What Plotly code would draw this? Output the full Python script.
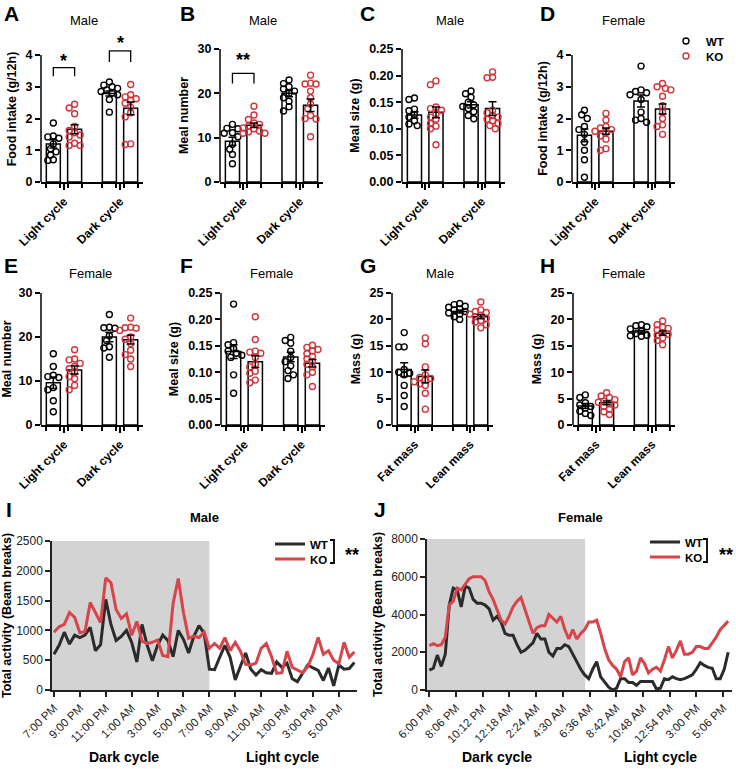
import plotly.graph_objects as go

W, H = 736, 769
FONT = "Liberation Sans, Arial, Helvetica, sans-serif"
NARROW = "Liberation Sans Narrow, Liberation Sans, Arial, sans-serif"
RED = "#d1343b"
LINE_RED = "#d7444a"
LINE_BLACK = "#2b2b2b"

# ---------------- data ----------------
CYCLE_CATS = ["Light cycle", "Dark cycle"]
MASS_CATS = ["Fat mass", "Lean mass"]

# A: Male food intake (g/12h)
A_WT = [[1.86, 1.45, 1.42, 1.38, 1.20, 1.05, 0.95, 0.85, 0.70, 0.68],
        [3.15, 3.05, 3.00, 2.95, 2.90, 2.85, 2.80, 2.75, 2.60, 2.20]]
A_KO = [[2.45, 2.33, 2.15, 1.75, 1.62, 1.55, 1.48, 1.42, 1.22, 1.15, 1.15],
        [3.07, 2.75, 2.68, 2.62, 2.58, 2.48, 2.35, 2.18, 2.05, 1.20, 1.18]]
A_WT_MEAN, A_WT_SEM = [1.20, 2.79], [0.13, 0.08]
A_KO_MEAN, A_KO_SEM = [1.66, 2.32], [0.14, 0.20]
A_SIG = [(0, 3.33, 3.6, "*", 3.82), (1, 3.78, 4.13, "*", 4.38)]

# B: Male meal number
B_WT = [[13.0, 12.1, 12.0, 11.1, 11.0, 10.2, 8.5, 7.4, 6.2, 4.1],
        [23.0, 22.2, 21.5, 21.0, 20.5, 20.0, 19.0, 18.2, 17.0, 16.0]]
B_KO = [[17.1, 15.1, 14.1, 13.3, 13.0, 12.6, 12.2, 12.0, 11.5, 11.3, 11.0, 11.0],
        [24.1, 22.3, 22.1, 22.1, 20.5, 19.0, 17.6, 16.5, 15.0, 14.3, 14.2, 10.2]]
B_WT_MEAN, B_WT_SEM = [9.2, 20.0], [0.9, 0.75]
B_KO_MEAN, B_KO_SEM = [12.8, 17.3], [0.5, 1.4]
B_SIG = [(0, 22.2, 24.5, "**", 27.6)]

# C: Male meal size (g)
C_WT = [[0.158, 0.155, 0.137, 0.134, 0.127, 0.122, 0.115, 0.109, 0.106],
        [0.171, 0.166, 0.159, 0.150, 0.145, 0.142, 0.138, 0.132, 0.125, 0.119]]
C_KO = [[0.190, 0.183, 0.141, 0.138, 0.135, 0.128, 0.122, 0.118, 0.110, 0.105, 0.100, 0.070],
        [0.207, 0.197, 0.196, 0.135, 0.130, 0.125, 0.122, 0.118, 0.115, 0.110, 0.106, 0.100]]
C_WT_MEAN, C_WT_SEM = [0.126, 0.145], [0.006, 0.006]
C_KO_MEAN, C_KO_SEM = [0.131, 0.138], [0.010, 0.013]

# D: Female food intake (g/12h)
D_WT = [[2.26, 2.12, 2.00, 1.75, 1.65, 1.50, 1.25, 1.00, 0.70, 0.15],
        [3.65, 2.90, 2.85, 2.81, 2.75, 2.60, 2.20, 2.00, 1.95, 1.88]]
D_KO = [[2.16, 1.95, 1.75, 1.70, 1.65, 1.60, 1.55, 1.45, 1.35, 1.05, 1.00],
        [3.10, 3.00, 2.95, 2.90, 2.70, 2.40, 2.20, 2.00, 1.80, 1.75, 1.50]]
D_WT_MEAN, D_WT_SEM = [1.47, 2.55], [0.20, 0.19]
D_KO_MEAN, D_KO_SEM = [1.60, 2.30], [0.10, 0.16]

# E: Female meal number
E_WT = [[16.2, 13.3, 11.3, 11.0, 10.8, 8.5, 8.0, 5.5, 3.0],
        [25.1, 22.2, 22.1, 22.0, 20.3, 19.2, 17.8, 17.5, 15.4]]
E_KO = [[17.1, 15.0, 14.8, 14.0, 13.3, 12.8, 12.0, 11.0, 10.5, 9.0, 8.0],
        [24.3, 22.2, 22.1, 22.0, 21.5, 20.0, 19.5, 18.5, 17.0, 16.0, 15.0, 13.3]]
E_WT_MEAN, E_WT_SEM = [9.6, 20.0], [1.3, 1.1]
E_KO_MEAN, E_KO_SEM = [12.5, 19.4], [0.9, 1.0]

# F: Female meal size (g)
F_WT = [[0.229, 0.156, 0.152, 0.145, 0.140, 0.136, 0.132, 0.128, 0.095, 0.060],
        [0.166, 0.160, 0.155, 0.140, 0.128, 0.120, 0.112, 0.103, 0.095, 0.088]]
F_KO = [[0.205, 0.162, 0.140, 0.138, 0.136, 0.128, 0.115, 0.110, 0.102, 0.098, 0.085, 0.080],
        [0.151, 0.147, 0.143, 0.140, 0.135, 0.130, 0.125, 0.120, 0.115, 0.110, 0.100, 0.095, 0.073]]
F_WT_MEAN, F_WT_SEM = [0.139, 0.129], [0.013, 0.009]
F_KO_MEAN, F_KO_SEM = [0.120, 0.117], [0.011, 0.007]

# G: Male mass (g)
G_WT = [[17.5, 14.8, 14.8, 10.5, 10.0, 9.8, 9.5, 7.5, 5.6, 3.5],
        [23.0, 22.8, 22.5, 22.3, 22.0, 21.8, 21.5, 21.2, 21.0, 20.5, 20.0]]
G_KO = [[16.5, 15.4, 11.0, 9.5, 9.0, 8.8, 8.5, 8.2, 7.8, 7.5, 6.0, 3.0],
        [23.3, 21.8, 21.5, 21.3, 21.0, 20.8, 20.5, 20.2, 19.8, 19.5, 19.0, 18.4]]
G_WT_MEAN, G_WT_SEM = [10.5, 21.5], [1.3, 0.3]
G_KO_MEAN, G_KO_SEM = [9.2, 20.5], [1.2, 0.4]

# H: Female mass (g)
H_WT = [[5.7, 5.2, 4.2, 3.8, 3.5, 3.2, 2.6, 2.2, 1.8],
        [19.0, 18.8, 18.6, 18.2, 17.8, 17.3, 17.0, 16.9, 16.8]]
H_KO = [[6.1, 5.5, 5.2, 4.8, 4.5, 4.3, 4.0, 3.8, 3.5, 3.0, 2.5, 2.0],
        [19.7, 19.0, 18.5, 18.3, 18.0, 17.5, 17.2, 17.0, 16.5, 16.0, 15.2]]
H_WT_MEAN, H_WT_SEM = [3.6, 17.6], [0.45, 0.3]
H_KO_MEAN, H_KO_SEM = [4.2, 17.4], [0.35, 0.4]

# I: Male total activity (beam breaks), 24-min bins from 7:00 PM
I_STEP_MIN = 24
I_WT = [600, 750, 970, 770, 920, 880, 920, 1050, 660, 760, 1520, 1100, 830, 900, 1000,
        800, 470, 1100, 750, 490, 750, 920, 830, 560, 1000, 850, 620, 900, 1080, 950,
        350, 340, 550, 750, 550, 170, 400, 620, 350, 250, 340, 290, 280, 470, 380,
        450, 190, 140, 280, 420, 370, 330, 160, 370, 70, 420, 350, 360, 460]
I_KO = [970, 1060, 1100, 1300, 1220, 960, 980, 1470, 1300, 1130, 1880, 1800, 1350, 1200, 1280,
        920, 1150, 820, 780, 800, 840, 580, 560, 1450, 1870, 1300, 870, 900, 880, 970,
        700, 780, 700, 880, 660, 800, 650, 430, 420, 450, 700, 780, 560, 280, 290,
        650, 380, 340, 290, 390, 600, 880, 600, 660, 500, 440, 800, 550, 640]
I_TICKS = ["7:00 PM", "9:00 PM", "11:00 PM", "1:00 AM", "3:00 AM", "5:00 AM",
           "7:00 AM", "9:00 AM", "11:00 AM", "1:00 PM", "3:00 PM", "5:00 PM"]
I_TICK_STEP = 120
I_DARK_END = 720

# J: Female total activity (beam breaks), bins from 6:00 PM
J_STEP_MIN = 18.8
J_WT = [1050, 1150, 1850, 1250, 1900, 4500, 5400, 5300, 4400, 5500,
        5400, 4800, 4600, 4600, 4500, 4300, 3700, 3900, 3600, 3000,
        2900, 2900, 2400, 2000, 2100, 2300, 2500, 3000, 2700, 2700,
        2000, 1800, 2200, 2200, 2400, 2300, 1900, 1500, 1100, 800,
        600, 1100, 1500, 700, 400, 150, 0, 100, 600, 600,
        400, 400, 250, 450, 450, 450, 450, 50, 100, 600,
        550, 700, 600, 550, 600, 700, 800, 1100, 1450, 1300,
        1200, 1150, 600, 600, 1100, 2000]
J_KO = [2350, 2450, 2350, 2400, 2800, 4500, 4700, 5400, 5300, 5600,
        5900, 6000, 6000, 6000, 5800, 5200, 4800, 4300, 3700, 3500,
        3900, 4400, 4700, 4900, 4300, 3600, 3000, 3300, 3400, 3400,
        4000, 3800, 3600, 3900, 3200, 2700, 3200, 2700, 3000, 3200,
        3600, 3600, 3700, 3000, 2200, 1600, 1300, 1100, 700, 1500,
        1700, 800, 1000, 1700, 1400, 900, 1100, 1200, 1000, 1600,
        2300, 1700, 2100, 2600, 1900, 1900, 2000, 2300, 2300, 2200,
        2200, 2500, 2800, 3200, 3450, 3650]
J_TICKS = ["6:00 PM", "8:06 PM", "10:12 PM", "12:18 AM", "2:24 AM", "4:30 AM",
           "6:36 AM", "8:42 AM", "10:48 AM", "12:54 PM", "3:00 PM", "5:06 PM"]
J_TICK_STEP = 126
J_DARK_END = 735

# ---------------- helpers ----------------
def px_x(px):
    return px / W


def px_y(py):
    return 1 - py / H


BAR_OFF, BAR_W = 0.19, 0.25
XR = [-0.41, 1.41]
DIAM = 5.5


def swarm(vals, center, ppu_y, ppu_x):
    order = sorted(range(len(vals)), key=lambda i: -vals[i])
    placed = []
    xs = [center] * len(vals)
    cands = [0, -0.5, 0.5, -1, 1, -1.5, 1.5, -2, 2, -2.5, 2.5]
    for i in order:
        yv = vals[i] * ppu_y
        xv = 0
        for c in cands:
            xv = c * DIAM
            if all((xv - a) ** 2 + (yv - b) ** 2 >= (DIAM * 0.95) ** 2 for a, b in placed):
                break
        placed.append((xv, yv))
        xs[i] = center + xv / ppu_x
    return xs


fig = go.Figure()
layout = dict(
    width=W, height=H, autosize=False,
    margin=dict(l=0, r=0, t=0, b=0, pad=0),
    paper_bgcolor="white", plot_bgcolor="white",
    barmode="overlay", font=dict(family=FONT, color="black"),
    showlegend=True,
)
shapes, annotations = [], []


def paper_text(x, y, text, size, bold=False, xanchor="center"):
    font = dict(family=FONT, size=size, color="black")
    if bold:
        font["weight"] = "bold"
    annotations.append(dict(x=px_x(x), y=px_y(y), xref="paper", yref="paper", text=text,
                            xanchor=xanchor, yanchor="middle", showarrow=False, font=font))


BAR_PANELS = [
    dict(n=1, title="Male", yt="Food intake (g/12h)", cats=CYCLE_CATS, wt=A_WT, ko=A_KO,
         wm=A_WT_MEAN, ws=A_WT_SEM, km=A_KO_MEAN, ks=A_KO_SEM, ymax=4, dt=1, fmt="",
         px=(41, 143), py=(55, 182), rtop=4.6, sig=A_SIG, tx=84, ty=21),
    dict(n=2, title="Male", yt="Meal number", cats=CYCLE_CATS, wt=B_WT, ko=B_KO,
         wm=B_WT_MEAN, ws=B_WT_SEM, km=B_KO_MEAN, ks=B_KO_SEM, ymax=30, dt=10, fmt="",
         px=(220, 323), py=(49, 182), rtop=30, sig=B_SIG, tx=263, ty=21),
    dict(n=3, title="Male", yt="Meal size (g)", cats=CYCLE_CATS, wt=C_WT, ko=C_KO,
         wm=C_WT_MEAN, ws=C_WT_SEM, km=C_KO_MEAN, ks=C_KO_SEM, ymax=0.25, dt=0.05, fmt=".2f",
         px=(402, 505), py=(49, 182), rtop=0.25, sig=[], tx=450, ty=21),
    dict(n=4, title="Female", yt="Food intake (g/12h)", cats=CYCLE_CATS, wt=D_WT, ko=D_KO,
         wm=D_WT_MEAN, ws=D_WT_SEM, km=D_KO_MEAN, ks=D_KO_SEM, ymax=4, dt=1, fmt="",
         px=(572, 675), py=(55, 182), rtop=4, sig=[], tx=623, ty=21),
    dict(n=5, title="Female", yt="Meal number", cats=CYCLE_CATS, wt=E_WT, ko=E_KO,
         wm=E_WT_MEAN, ws=E_WT_SEM, km=E_KO_MEAN, ks=E_KO_SEM, ymax=30, dt=10, fmt="",
         px=(41, 143), py=(293, 425), rtop=30, sig=[], tx=90, ty=273),
    dict(n=6, title="Female", yt="Meal size (g)", cats=CYCLE_CATS, wt=F_WT, ko=F_KO,
         wm=F_WT_MEAN, ws=F_WT_SEM, km=F_KO_MEAN, ks=F_KO_SEM, ymax=0.25, dt=0.05, fmt=".2f",
         px=(221, 325), py=(293, 425), rtop=0.25, sig=[], tx=271, ty=273),
    dict(n=7, title="Male", yt="Mass (g)", cats=MASS_CATS, wt=G_WT, ko=G_KO,
         wm=G_WT_MEAN, ws=G_WT_SEM, km=G_KO_MEAN, ks=G_KO_SEM, ymax=25, dt=5, fmt="",
         px=(392, 493), py=(293, 425), rtop=25, sig=[], tx=440, ty=273),
    dict(n=8, title="Female", yt="Mass (g)", cats=MASS_CATS, wt=H_WT, ko=H_KO,
         wm=H_WT_MEAN, ws=H_WT_SEM, km=H_KO_MEAN, ks=H_KO_SEM, ymax=25, dt=5, fmt="",
         px=(573, 675), py=(293, 425), rtop=25, sig=[], tx=623, ty=273),
]

LETTER_POS = {"A": (2, 13), "B": (178, 13), "C": (358, 13), "D": (538, 13),
              "E": (2, 265), "F": (178, 265), "G": (358, 265), "H": (538, 265),
              "I": (4, 510), "J": (372, 510)}

edges = []
for g in (0, 1):
    for s in (-1, 1):
        for e in (-1, 1):
            edges.append(g + s * BAR_OFF + e * BAR_W / 2)
edges = sorted(edges)

for p in BAR_PANELS:
    n = p["n"]
    xa = "x" if n == 1 else f"x{n}"
    ya = "y" if n == 1 else f"y{n}"
    xl, xr = p["px"]
    yt_px, yb_px = p["py"]
    ppu_y = (yb_px - yt_px) / p["ymax"]
    top_px = yb_px - p["rtop"] * ppu_y
    ppu_x = (xr - xl) / (XR[1] - XR[0])
    tickvals = []
    v = 0.0
    while v <= p["ymax"] + 1e-9:
        tickvals.append(round(v, 4))
        v += p["dt"]

    layout["xaxis" if n == 1 else f"xaxis{n}"] = dict(
        domain=[px_x(xl), px_x(xr)], anchor=ya, range=XR, automargin=False,
        tickmode="array", tickvals=[0, 1], ticktext=p["cats"], tickangle=-45,
        ticks="outside", ticklen=6, tickwidth=1.5, tickcolor="black",
        showline=True, linewidth=1.5, linecolor="black",
        showgrid=False, zeroline=False,
        tickfont=dict(family=FONT, size=12, color="black", weight="bold"),
        minor=dict(tickmode="array", tickvals=edges, ticks="outside", ticklen=4,
                   tickwidth=1.5, tickcolor="black"),
    )
    layout["yaxis" if n == 1 else f"yaxis{n}"] = dict(
        domain=[px_y(yb_px), px_y(top_px)], anchor=xa, range=[0, p["rtop"]], automargin=False,
        tickmode="array", tickvals=tickvals, tickformat=p["fmt"],
        ticks="outside", ticklen=5, tickwidth=1.5, tickcolor="black",
        showline=False, showgrid=False, zeroline=False,
        tickfont=dict(family=FONT, size=12.5, color="black", weight="bold"),
        title=dict(text=p["yt"], font=dict(family=FONT, size=12.5, color="black", weight="bold"),
                   standoff=6),
    )
    shapes.append(dict(type="line", xref=f"{xa} domain", yref=ya, x0=0, x1=0, y0=0, y1=p["ymax"],
                       line=dict(color="black", width=1.5)))

    wt_pos = [g - BAR_OFF for g in (0, 1)]
    ko_pos = [g + BAR_OFF for g in (0, 1)]
    for pos, mean in ((wt_pos, p["wm"]), (ko_pos, p["km"])):
        fig.add_trace(go.Bar(x=pos, y=mean, width=BAR_W, xaxis=xa, yaxis=ya,
                             marker=dict(color="white", line=dict(color="black", width=1.5)),
                             showlegend=False, hoverinfo="skip"))
    for name, groups, pos, col, lg in (("WT", p["wt"], wt_pos, "black", "legend"),
                                       ("KO", p["ko"], ko_pos, RED, "legend4")):
        xs, ys = [], []
        for g, vals in enumerate(groups):
            xs += swarm(vals, pos[g], ppu_y, ppu_x)
            ys += vals
        fig.add_trace(go.Scatter(x=xs, y=ys, mode="markers", xaxis=xa, yaxis=ya, name=name,
                                 marker=dict(symbol="circle-open", size=6, color=col,
                                             line=dict(width=1.4, color=col)),
                                 showlegend=(n == 1), legend=lg))
    for pos, mean, sem in ((wt_pos, p["wm"], p["ws"]), (ko_pos, p["km"], p["ks"])):
        fig.add_trace(go.Scatter(x=pos, y=mean, mode="markers", xaxis=xa, yaxis=ya,
                                 marker=dict(size=2, color="rgba(0,0,0,0)"),
                                 error_y=dict(type="data", array=sem, visible=True, color="black",
                                              thickness=1.5, width=4),
                                 showlegend=False, hoverinfo="skip"))
    for g, leg, top, txt, sy in p["sig"]:
        x1, x2 = g - BAR_OFF, g + BAR_OFF
        shapes.append(dict(type="path", xref=xa, yref=ya,
                           path=f"M {x1},{leg} L {x1},{top} L {x2},{top} L {x2},{leg}",
                           line=dict(color="black", width=1.3)))
        annotations.append(dict(x=g, y=sy, xref=xa, yref=ya, text=txt, showarrow=False,
                                yanchor="middle", font=dict(family=FONT, size=18, color="black",
                                                            weight="bold")))
    paper_text(p["tx"], p["ty"], p["title"], 13)

# ---------------- time-course panels ----------------
LINE_PANELS = [
    dict(n=9, title="Male", wt=I_WT, ko=I_KO, step=I_STEP_MIN, ticks=I_TICKS, tstep=I_TICK_STEP,
         dark_end=I_DARK_END, ymax=2500, dt=500, px=(52, 357), py=(541, 690), xr=[-9, 1404],
         legends=("legend2", "legend5"), title_x=204, dark_x=124, light_x=282),
    dict(n=10, title="Female", wt=J_WT, ko=J_KO, step=J_STEP_MIN, ticks=J_TICKS, tstep=J_TICK_STEP,
         dark_end=J_DARK_END, ymax=8000, dt=2000, px=(427, 732), py=(539, 690), xr=[-11, 1428],
         legends=("legend3", "legend6"), title_x=580, dark_x=497, light_x=660),
]

for p in LINE_PANELS:
    n = p["n"]
    xa, ya = f"x{n}", f"y{n}"
    xl, xr = p["px"]
    yt_px, yb_px = p["py"]
    layout[f"xaxis{n}"] = dict(
        domain=[px_x(xl), px_x(xr)], anchor=ya, range=p["xr"], automargin=False,
        tickmode="array", tickvals=[i * p["tstep"] for i in range(len(p["ticks"]))],
        ticktext=p["ticks"], tickangle=-45,
        ticks="outside", ticklen=5, tickwidth=1.5, tickcolor="#222",
        showline=True, linewidth=1.5, linecolor="#222", showgrid=False, zeroline=False,
        tickfont=dict(family=FONT, size=11.5, color="#222"),
    )
    layout[f"yaxis{n}"] = dict(
        domain=[px_y(yb_px), px_y(yt_px)], anchor=xa, range=[0, p["ymax"]], dtick=p["dt"],
        automargin=False,
        ticks="outside", ticklen=5, tickwidth=1.5, tickcolor="#222",
        showline=True, linewidth=1.5, linecolor="#222", showgrid=False, zeroline=False,
        tickfont=dict(family=FONT, size=12, color="#222"),
        title=dict(text="Total activity (Beam breaks)",
                   font=dict(family=FONT, size=12.5, color="black", weight="bold"), standoff=6),
    )
    shapes.append(dict(type="rect", xref=xa, yref=ya, x0=p["xr"][0], x1=p["dark_end"],
                       y0=0, y1=p["ymax"], fillcolor="#d3d3d3", line=dict(width=0), layer="below"))
    t = [i * p["step"] for i in range(len(p["wt"]))]
    fig.add_trace(go.Scatter(x=t, y=p["wt"], mode="lines", name="WT", xaxis=xa, yaxis=ya,
                             line=dict(color=LINE_BLACK, width=3), legend=p["legends"][0]))
    t = [i * p["step"] for i in range(len(p["ko"]))]
    fig.add_trace(go.Scatter(x=t, y=p["ko"], mode="lines", name="KO", xaxis=xa, yaxis=ya,
                             line=dict(color=LINE_RED, width=3), legend=p["legends"][1]))
    paper_text(p["title_x"], 517, p["title"], 13, bold=True)
    paper_text(p["dark_x"], 757, "Dark cycle", 14, bold=True)
    paper_text(p["light_x"], 757, "Light cycle", 14, bold=True)

# legends (one entry each so the row spacing can follow the reference)
LEG_POS = {"legend": (666, 41, FONT), "legend4": (666, 56, FONT),
           "legend2": (270, 544, NARROW), "legend5": (270, 559, NARROW),
           "legend3": (645, 542, NARROW), "legend6": (645, 557, NARROW)}
for key, (lx, cy, fam) in LEG_POS.items():
    layout[key] = dict(x=px_x(lx), y=px_y(cy), xanchor="left", yanchor="middle",
                       bgcolor="rgba(0,0,0,0)", itemwidth=30, borderwidth=0,
                       font=dict(family=fam, size=11.5, color="black", weight="bold"))

# significance brackets next to line legends
for bx, by0, by1, sx in ((334, 540, 563, 352), (707, 539, 562, 726)):
    shapes.append(dict(type="path", xref="paper", yref="paper",
                       path=(f"M {px_x(bx-4)},{px_y(by0)} L {px_x(bx)},{px_y(by0)} "
                             f"L {px_x(bx)},{px_y(by1)} L {px_x(bx-4)},{px_y(by1)}"),
                       line=dict(color="black", width=1.8)))
    paper_text(sx, 555, "**", 18, bold=True)

# panel letters
for L, (lx, ly) in LETTER_POS.items():
    paper_text(lx, ly, L, 21, bold=True, xanchor="left")

layout["shapes"] = shapes
layout["annotations"] = annotations
fig.update_layout(**layout)
fig.write_html("out.html", config={"displayModeBar": False},
               post_script="document.body.style.margin='0px';document.body.style.padding='0px';")
